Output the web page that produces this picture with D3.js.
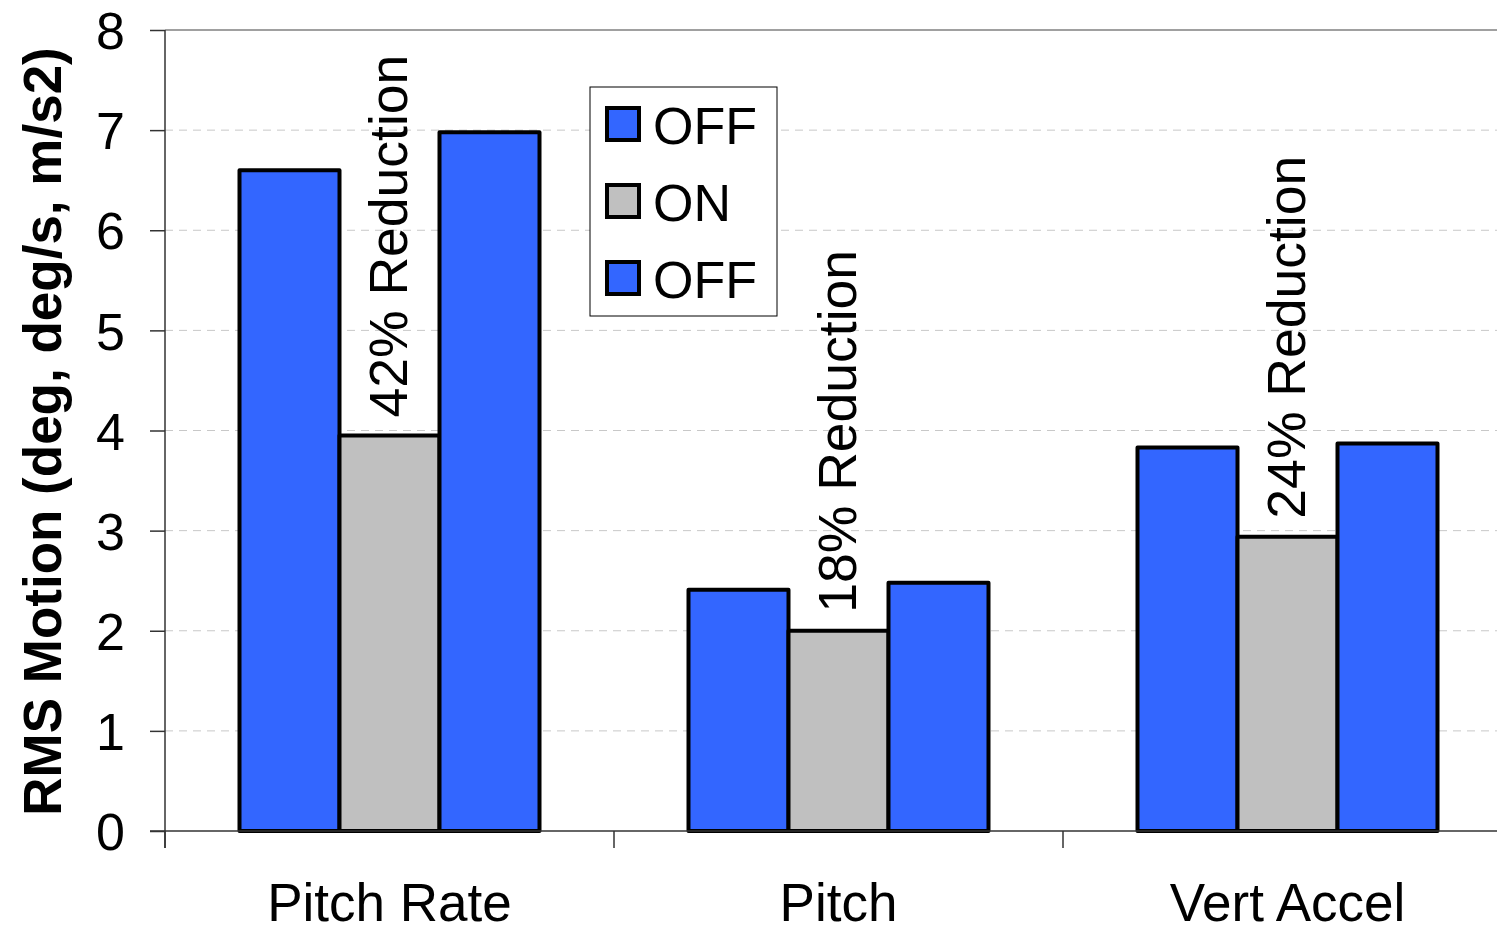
<!DOCTYPE html>
<html>
<head>
<meta charset="utf-8">
<script src="https://cdn.jsdelivr.net/npm/d3@7"></script>
<style>
  html, body { margin: 0; padding: 0; background: #fff; }
  svg { display: block; font-family: "Liberation Sans", Arial, sans-serif; }
</style>
</head>
<body>
<svg id="chart" width="1497" height="932"></svg>
<script>
const categories = ["Pitch Rate", "Pitch", "Vert Accel"];
const seriesNames = ["OFF", "ON", "OFF"];
const seriesColors = ["#3366FF", "#C0C0C0", "#3366FF"];
const offBefore = [6.60, 2.41, 3.83];
const onValues = [3.95, 2.00, 2.94];
const offAfter = [6.98, 2.48, 3.87];
const reductionLabels = ["42% Reduction", "18% Reduction", "24% Reduction"];
const yTicks = [0, 1, 2, 3, 4, 5, 6, 7, 8];
const yTitle = "RMS Motion (deg, deg/s, m/s2)";

(function () {
const seriesValues = [offBefore, onValues, offAfter];

const svg = d3.select("#chart");
const pLeft = 165, pRight = 1512, pTop = 30, pBottom = 831;

const x = d3.scaleBand().domain(categories).range([pLeft, pRight])
  .paddingInner(149 / 449).paddingOuter(149 / 898);
const x1 = d3.scaleBand().domain(d3.range(seriesNames.length)).range([0, x.bandwidth()]);
const y = d3.scaleLinear().domain([0, 8]).range([pBottom, pTop]);

// gridlines
svg.append("g").selectAll("line").data(yTicks.filter(t => t > 0 && t < 8)).join("line")
  .attr("x1", pLeft).attr("x2", 1497)
  .attr("y1", d => y(d)).attr("y2", d => y(d))
  .attr("stroke", "#c8c8c8").attr("stroke-width", 1).attr("stroke-dasharray", "8,6");

// top border
svg.append("line").attr("x1", pLeft).attr("x2", 1497).attr("y1", y(8)).attr("y2", y(8))
  .attr("stroke", "#808080").attr("stroke-width", 1.5);

// bars
const groups = svg.append("g").selectAll("g").data(categories).join("g")
  .attr("transform", d => `translate(${x(d)},0)`);
groups.selectAll("rect").data((c, ci) => seriesValues.map((vals, si) => ({ si, v: vals[ci] })))
  .join("rect")
  .attr("x", d => x1(d.si))
  .attr("width", x1.bandwidth())
  .attr("y", d => y(d.v))
  .attr("height", d => y(0) - y(d.v))
  .attr("fill", d => seriesColors[d.si])
  .attr("stroke", "#000").attr("stroke-width", 4).attr("stroke-linejoin", "round");

// reduction labels
categories.forEach((c, i) => {
  const cx = x(c) + x1(1) + x1.bandwidth() / 2;
  const yy = y(onValues[i]) - 18;
  svg.append("text")
    .attr("transform", `translate(${cx + 17},${yy}) rotate(-90)`)
    .attr("font-size", 53.5).attr("fill", "#000")
    .text(reductionLabels[i]);
});

// x axis
const xAxis = svg.append("g").attr("transform", `translate(0,${pBottom})`);
xAxis.append("line").attr("x1", 150).attr("x2", 1497).attr("y1", 0).attr("y2", 0)
  .attr("stroke", "#333").attr("stroke-width", 1.5);
const boundaries = d3.range(categories.length).map(i => pLeft + x.step() * i);
xAxis.selectAll("line.tick").data(boundaries).join("line").attr("class", "tick")
  .attr("x1", d => d).attr("x2", d => d).attr("y1", 0).attr("y2", 17)
  .attr("stroke", "#333").attr("stroke-width", 1.5);
xAxis.selectAll("text").data(categories).join("text")
  .attr("x", d => x(d) + x.bandwidth() / 2).attr("y", 90)
  .attr("text-anchor", "middle").attr("font-size", 53).attr("fill", "#000")
  .text(d => d);

// y axis
const yAxis = svg.append("g").attr("transform", `translate(${pLeft},0)`)
  .call(d3.axisLeft(y).tickValues(yTicks).tickFormat(d3.format("d")).tickSize(15).tickPadding(25));
yAxis.select(".domain").remove();
yAxis.append("line").attr("x1", 0).attr("x2", 0).attr("y1", pTop).attr("y2", pBottom + 17)
  .attr("stroke", "#333").attr("stroke-width", 1.5);
yAxis.selectAll(".tick line").attr("stroke", "#333").attr("stroke-width", 1.5);
yAxis.selectAll(".tick text").attr("font-size", 52).attr("fill", "#000")
  .attr("font-family", "'Liberation Sans', Arial, sans-serif").attr("dy", "0.36em");

// y title
svg.append("text")
  .attr("transform", `translate(61,${(pTop + pBottom) / 2 + 1}) rotate(-90)`)
  .attr("text-anchor", "middle").attr("font-size", 53).attr("font-weight", "bold").attr("fill", "#000")
  .text(yTitle);

// legend
const lg = svg.append("g").attr("transform", "translate(590,87)");
lg.append("rect").attr("x", 0).attr("y", 0).attr("width", 187).attr("height", 229)
  .attr("fill", "#fff").attr("stroke", "#000").attr("stroke-width", 1);
seriesNames.forEach((s, i) => {
  const ry = 21 + i * 77;
  lg.append("rect").attr("x", 17).attr("y", ry).attr("width", 32).attr("height", 32)
    .attr("fill", seriesColors[i]).attr("stroke", "#000").attr("stroke-width", 4);
  lg.append("text").attr("x", 63).attr("y", ry + 36).attr("font-size", 52).attr("fill", "#000").text(s);
});
})();
</script>
</body>
</html>
